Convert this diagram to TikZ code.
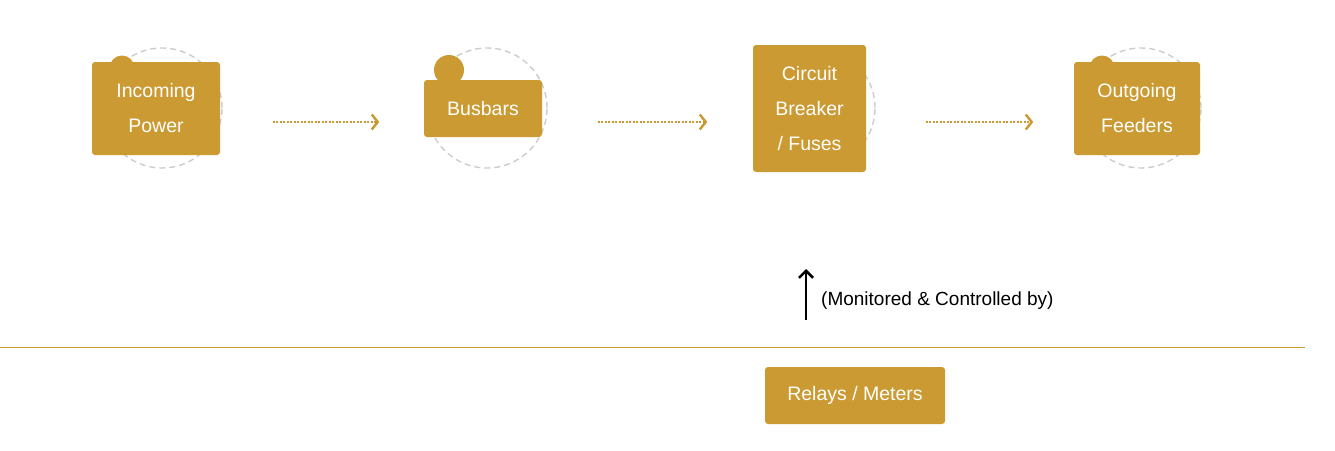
\documentclass[tikz,border=0pt]{standalone}
\usepackage{fontspec}
\setmainfont{Liberation Sans}
\usetikzlibrary{arrows.meta}
\definecolor{gold}{RGB}{203,154,50}
\definecolor{ringgray}{RGB}{204,204,204}
\tikzset{>=stealth}

\begin{document}
\begin{tikzpicture}[x=1pt, y=-1pt,
    blockbox/.style={fill=gold, rounded corners=3pt, text=white, align=center,
      font=\fontsize{19.5}{35}\selectfont, inner sep=0pt},
    ring/.style={circle, draw=ringgray, dashed, dash pattern=on 6pt off 4pt,
      line width=1.4pt, minimum size=120pt, inner sep=0pt},
    knob/.style={circle, fill=gold, inner sep=0pt},
    flow/.style={draw=gold, line width=1.8pt, dash pattern=on 2pt off 1.5pt,
      -{Straight Barb[length=6pt, width=15pt, line width=2.4pt]}}]
    \useasboundingbox (0,0) rectangle (1335,450);
    % dashed rings behind the blocks
    \node[ring] (ring1) at (162,108) {};
    \node[ring] (ring2) at (487,108) {};
    \node[ring] (ring3) at (815,108) {};
    \node[ring] (ring4) at (1141,108) {};
    % small knobs
    \node[knob, minimum size=25pt] (knob1) at (122,68) {};
    \node[knob, minimum size=30pt] (knob2) at (449,70) {};
    \node[knob, minimum size=25pt] (knob4) at (1102,68) {};
    % blocks
    \node[blockbox, minimum width=128pt, minimum height=93pt] (power) at (156,108.5) {Incoming\\Power};
    \node[blockbox, minimum width=118pt, minimum height=57pt] (busbars) at (483,108.5) {Busbars};
    \node[blockbox, minimum width=113pt, minimum height=127pt] (breaker) at (809.5,108.5) {Circuit\\Breaker\\/ Fuses};
    \node[blockbox, minimum width=126pt, minimum height=93pt] (feeders) at (1137,108.5) {Outgoing\\Feeders};
    \foreach \a/\b in {ring1/ring2, ring2/ring3, ring3/ring4}
    \draw[flow, shorten <=50pt, shorten >=47pt] ([yshift=-14pt]\a.east) -- ([yshift=-14pt]\b.west);
    % lower part
    \draw[gold, line width=1.2pt] (0,347.5) -- (1305,347.5);
    \node[blockbox, minimum width=180pt, minimum height=57pt] (relays) at (855,395.5) {Relays / Meters};
    \node[anchor=west, font=\fontsize{19}{22}\selectfont, inner sep=0pt] (monitor) at (821,301) {(Monitored \& Controlled by)};
    \coordinate (up0) at (806,320);
    \coordinate (up1) at (806,269);
    \draw[line width=2.6pt, -{Straight Barb[length=7pt, width=14pt, line width=2.6pt]}] (up0) -- (up1);
\end{tikzpicture}
\end{document}
